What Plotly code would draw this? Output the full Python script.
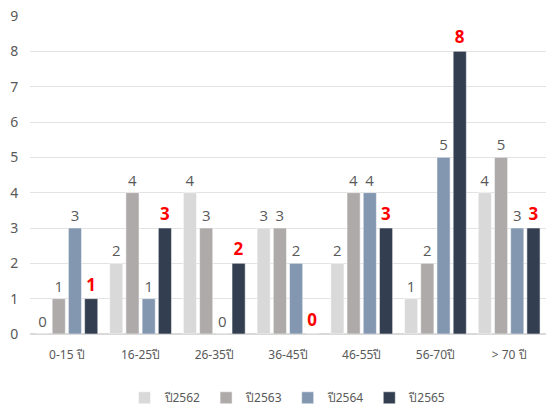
import plotly.graph_objects as go

categories = ["0-15 ปี", "16-25ปี", "26-35ปี", "36-45ปี", "46-55ปี", "56-70ปี", "> 70 ปี"]
series_names = ["ปี2562", "ปี2563", "ปี2564", "ปี2565"]
y2562 = [0, 2, 4, 3, 2, 1, 4]
y2563 = [1, 4, 3, 3, 4, 2, 5]
y2564 = [3, 1, 0, 2, 4, 5, 3]
y2565 = [1, 3, 2, 0, 3, 8, 3]
y_ticks = list(range(0, 10))

COLORS = ["#d9d9d9", "#aeaaaa", "#8497b0", "#333f50"]

fig = go.Figure()
for name, vals, color in zip(series_names, [y2562, y2563, y2564, y2565], COLORS):
    highlight = name == "ปี2565"
    fig.add_trace(
        go.Bar(
            x=categories,
            y=vals,
            name=name,
            marker=dict(color=color),
            text=[str(v) for v in vals],
            textposition="outside",
            cliponaxis=False,
            textfont=dict(
                color="#ff0000" if highlight else "#595959",
                size=17 if highlight else 15,
                family="Open Sans, sans-serif",
                weight="bold" if highlight else "normal",
            ),
        )
    )

fig.update_layout(
    width=548,
    height=411,
    template="plotly_white",
    barmode="group",
    bargap=0.12,
    bargroupgap=0.19,
    font=dict(family="Noto Sans, sans-serif", color="#595959", size=13),
    margin=dict(l=30, r=2, t=16, b=77, autoexpand=False),
    plot_bgcolor="white",
    paper_bgcolor="white",
    legend=dict(
        orientation="h",
        x=0.5,
        xanchor="center",
        y=-0.155,
        yanchor="top",
        font=dict(size=12),
        itemwidth=30,
    ),
)
fig.update_yaxes(
    range=[0, 9],
    tickvals=y_ticks,
    gridcolor="#e3e3e3",
    zeroline=True,
    zerolinecolor="#d9d9d9",
    ticks="outside",
    ticklen=8,
    tickcolor="rgba(0,0,0,0)",
    tickfont=dict(size=14),
    automargin=False,
)
fig.update_xaxes(
    showgrid=False,
    tickfont=dict(size=12),
    ticks="outside",
    ticklen=10,
    tickcolor="rgba(0,0,0,0)",
    automargin=False,
)

# drop the default page margin so the figure sits at the window's corner
fig.write_html(
    "out.html",
    config={"displayModeBar": False},
    post_script="document.body.style.margin='0';",
)
